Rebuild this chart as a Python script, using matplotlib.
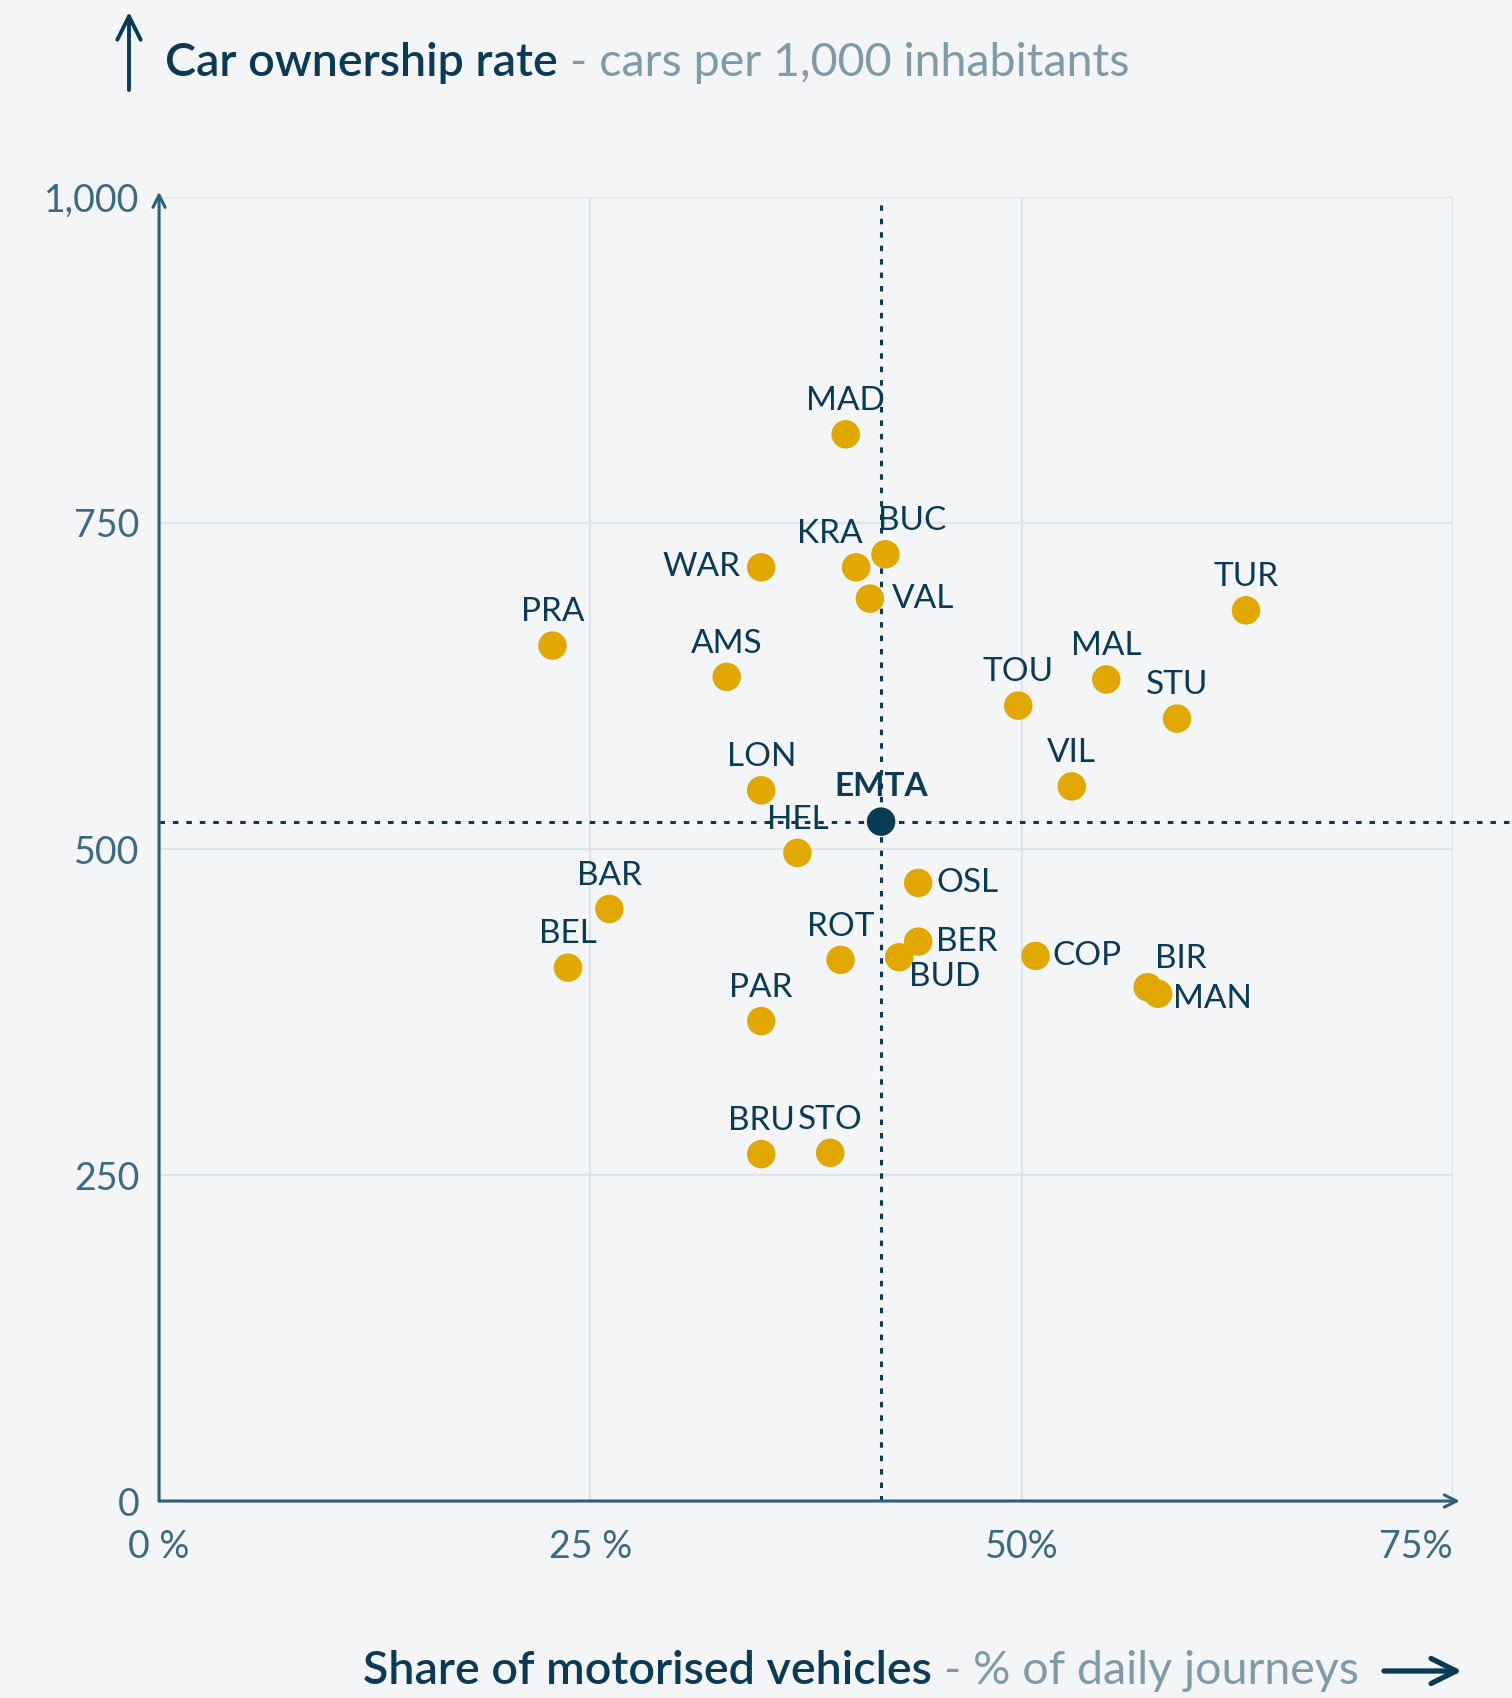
import matplotlib
matplotlib.use("Agg")
import matplotlib.pyplot as plt

# --- data -----------------------------------------------------------------
cities = ["MAD", "BUC", "KRA", "WAR", "VAL", "TUR", "PRA", "AMS", "MAL", "TOU",
          "STU", "VIL", "LON", "HEL", "OSL", "BAR", "BER", "ROT", "BUD", "COP",
          "BEL", "BIR", "MAN", "PAR", "BRU", "STO"]
motor_share = [39.8, 42.1, 40.4, 34.9, 41.2, 63.0, 22.8, 32.9, 54.9, 49.8,
               59.0, 52.9, 34.9, 37.0, 44.0, 26.1, 44.0, 39.5, 42.9, 50.8,
               23.7, 57.3, 57.9, 34.9, 34.9, 38.9]
cars_per_1000 = [818, 726, 716, 716, 692, 683, 656, 632, 630, 610,
                 600, 548, 545, 497, 474, 454, 429, 415, 417, 418,
                 409, 394, 389, 368, 266, 267]
emta_share = 41.85
emta_cars = 521

x_ticks = [0, 25, 50, 75]
x_tick_labels = ["0 %", "25 %", "50%", "75%"]
y_ticks = [0, 250, 500, 750, 1000]
y_tick_labels = ["0", "250", "500", "750", "1,000"]

# --- style ----------------------------------------------------------------
BG = "#f3f5f7"
NAVY = "#0b3a55"
AXIS = "#2f6079"
TICK = "#3d6a80"
GREY = "#7f9ba8"
GRID = "#dfe4e9"
GOLD = "#e0a800"
FONT = "Lato"

# label placement (offset in points, ha); default = centred above
ABOVE = ((0, 24), "center")
placement = {
    "BUC": ((19, 24), "center"),
    "KRA": ((-19, 24), "center"),
    "WAR": ((-15, 0), "right"),
    "VAL": ((16, 0), "left"),
    "OSL": ((13, 0), "left"),
    "BER": ((13, 0), "left"),
    "COP": ((12, 0), "left"),
    "MAN": ((11, -4), "left"),
    "BIR": ((5, 20), "left"),
    "BUD": ((7, -14), "left"),
}

plt.rcParams["font.family"] = [FONT, "DejaVu Sans"]

fig = plt.figure(figsize=(15.12, 16.98), dpi=100, facecolor=BG)
ax = fig.add_axes([0.1052, 0.1160, 0.961 - 0.1052, 0.884 - 0.1160])
ax.set_facecolor(BG)
ax.set_xlim(0, 75)
ax.set_ylim(0, 1000)

for s in ax.spines.values():
    s.set_visible(False)

# grid
for gx in x_ticks[1:]:
    ax.plot([gx, gx], [0, 1000], color=GRID, lw=1.6, zorder=1)
for gy in y_ticks[1:]:
    ax.plot([0, 75], [gy, gy], color=GRID, lw=1.6, zorder=1)

# axes with arrow heads
ax.annotate("", xy=(75.4, 0), xytext=(0, 0),
            arrowprops=dict(arrowstyle="->", lw=2.2, color=AXIS, mutation_scale=22,
                            shrinkA=0, shrinkB=0), annotation_clip=False, zorder=3)
ax.annotate("", xy=(0, 1004), xytext=(0, 0),
            arrowprops=dict(arrowstyle="->", lw=2.2, color=AXIS, mutation_scale=22,
                            shrinkA=0, shrinkB=0), annotation_clip=False, zorder=3)

# ticks
ax.set_xticks(x_ticks)
ax.set_xticklabels(x_tick_labels)
ax.set_yticks(y_ticks)
ax.set_yticklabels(y_tick_labels)
ax.tick_params(length=0, labelsize=27, labelcolor=TICK)
ax.tick_params(axis="y", pad=14)
ax.tick_params(axis="x", pad=20)
xl = ax.get_xticklabels()
xl[-1].set_horizontalalignment("right")

# EMTA reference lines
dot_style = dict(color=NAVY, lw=2.2, linestyle=(0, (1.8, 2.6)), zorder=2)
ax.plot([emta_share, emta_share], [0, 1000], **dot_style)
ax.plot([0, 80], [emta_cars, emta_cars], clip_on=False, **dot_style)

# city points
ax.scatter(motor_share, cars_per_1000, s=420, color=GOLD, edgecolors="none", zorder=4)
for name, xv, yv in zip(cities, motor_share, cars_per_1000):
    (dx, dy), ha = placement.get(name, ABOVE)
    ax.annotate(name, (xv, yv), xytext=(dx, dy), textcoords="offset points",
                ha=ha, va="center", fontsize=24, color=NAVY, zorder=5)

ax.scatter([emta_share], [emta_cars], s=420, color=NAVY, edgecolors="none", zorder=5)
ax.annotate("EMTA", (emta_share, emta_cars), xytext=(0, 25), textcoords="offset points",
            ha="center", va="center", fontsize=24, fontweight="bold", color=NAVY, zorder=5)

# titles
W, H = fig.bbox.width, fig.bbox.height
renderer = fig.canvas.get_renderer()

t1 = fig.text(165 / W, 1 - 63 / H, "Car ownership rate", fontsize=33.6, color=NAVY,
              fontweight="semibold", ha="left", va="center")
bb = t1.get_window_extent(renderer)
fig.text((bb.x1 + 12) / W, 1 - 63 / H, "- cars per 1,000 inhabitants", fontsize=33.6,
         color=GREY, ha="left", va="center")

t2 = fig.text(1359 / W, 1 - 1671 / H, "- % of daily journeys", fontsize=33.6,
              color=GREY, ha="right", va="center")
bb2 = t2.get_window_extent(renderer)
fig.text((bb2.x0 - 12) / W, 1 - 1671 / H, "Share of motorised vehicles", fontsize=33.6,
         color=NAVY, fontweight="semibold", ha="right", va="center")

# decorative arrows beside the titles
fig.add_artist(matplotlib.patches.FancyArrowPatch(
    (129 / W, 1 - 90 / H), (129 / W, 1 - 12 / H), transform=fig.transFigure,
    arrowstyle="->", mutation_scale=42, lw=2.8, color=NAVY, shrinkA=0, shrinkB=0))
fig.add_artist(matplotlib.patches.FancyArrowPatch(
    (1384 / W, 1 - 1671 / H), (1462 / W, 1 - 1671 / H), transform=fig.transFigure,
    arrowstyle="->", mutation_scale=45, lw=3.8, color=NAVY, shrinkA=0, shrinkB=0))

fig.savefig("out.png", dpi=100, facecolor=BG)
